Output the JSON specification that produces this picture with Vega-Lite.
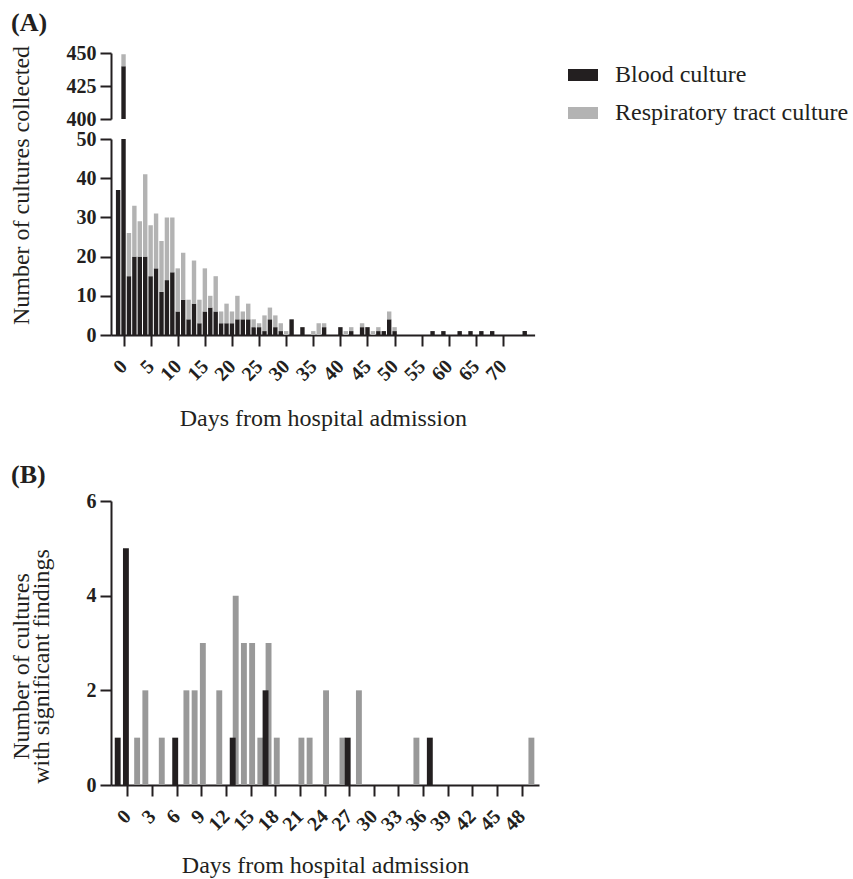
{
  "$schema": "https://vega.github.io/schema/vega-lite/v6.json",
  "padding": {"left": 8, "top": 10, "right": 5, "bottom": 0},
  "background": "white",
  "datasets": {
    "a": [
      {"day": -1, "culture": "Blood culture", "count": 37},
      {"day": 0, "culture": "Blood culture", "count": 440},
      {"day": 0, "culture": "Respiratory tract culture", "count": 9},
      {"day": 1, "culture": "Blood culture", "count": 15},
      {"day": 1, "culture": "Respiratory tract culture", "count": 11},
      {"day": 2, "culture": "Blood culture", "count": 20},
      {"day": 2, "culture": "Respiratory tract culture", "count": 13},
      {"day": 3, "culture": "Blood culture", "count": 20},
      {"day": 3, "culture": "Respiratory tract culture", "count": 9},
      {"day": 4, "culture": "Blood culture", "count": 20},
      {"day": 4, "culture": "Respiratory tract culture", "count": 21},
      {"day": 5, "culture": "Blood culture", "count": 15},
      {"day": 5, "culture": "Respiratory tract culture", "count": 13},
      {"day": 6, "culture": "Blood culture", "count": 17},
      {"day": 6, "culture": "Respiratory tract culture", "count": 14},
      {"day": 7, "culture": "Blood culture", "count": 11},
      {"day": 7, "culture": "Respiratory tract culture", "count": 13},
      {"day": 8, "culture": "Blood culture", "count": 14},
      {"day": 8, "culture": "Respiratory tract culture", "count": 16},
      {"day": 9, "culture": "Blood culture", "count": 16},
      {"day": 9, "culture": "Respiratory tract culture", "count": 14},
      {"day": 10, "culture": "Blood culture", "count": 6},
      {"day": 10, "culture": "Respiratory tract culture", "count": 11},
      {"day": 11, "culture": "Blood culture", "count": 9},
      {"day": 11, "culture": "Respiratory tract culture", "count": 12},
      {"day": 12, "culture": "Blood culture", "count": 4},
      {"day": 12, "culture": "Respiratory tract culture", "count": 5},
      {"day": 13, "culture": "Blood culture", "count": 8},
      {"day": 13, "culture": "Respiratory tract culture", "count": 11},
      {"day": 14, "culture": "Blood culture", "count": 3},
      {"day": 14, "culture": "Respiratory tract culture", "count": 6},
      {"day": 15, "culture": "Blood culture", "count": 6},
      {"day": 15, "culture": "Respiratory tract culture", "count": 11},
      {"day": 16, "culture": "Blood culture", "count": 7},
      {"day": 16, "culture": "Respiratory tract culture", "count": 3},
      {"day": 17, "culture": "Blood culture", "count": 6},
      {"day": 17, "culture": "Respiratory tract culture", "count": 9},
      {"day": 18, "culture": "Blood culture", "count": 3},
      {"day": 18, "culture": "Respiratory tract culture", "count": 3},
      {"day": 19, "culture": "Blood culture", "count": 3},
      {"day": 19, "culture": "Respiratory tract culture", "count": 5},
      {"day": 20, "culture": "Blood culture", "count": 3},
      {"day": 20, "culture": "Respiratory tract culture", "count": 3},
      {"day": 21, "culture": "Blood culture", "count": 4},
      {"day": 21, "culture": "Respiratory tract culture", "count": 6},
      {"day": 22, "culture": "Blood culture", "count": 4},
      {"day": 22, "culture": "Respiratory tract culture", "count": 2},
      {"day": 23, "culture": "Blood culture", "count": 4},
      {"day": 23, "culture": "Respiratory tract culture", "count": 4},
      {"day": 24, "culture": "Blood culture", "count": 2},
      {"day": 24, "culture": "Respiratory tract culture", "count": 2},
      {"day": 25, "culture": "Blood culture", "count": 2},
      {"day": 25, "culture": "Respiratory tract culture", "count": 1},
      {"day": 26, "culture": "Blood culture", "count": 1},
      {"day": 26, "culture": "Respiratory tract culture", "count": 4},
      {"day": 27, "culture": "Blood culture", "count": 4},
      {"day": 27, "culture": "Respiratory tract culture", "count": 3},
      {"day": 28, "culture": "Blood culture", "count": 2},
      {"day": 28, "culture": "Respiratory tract culture", "count": 3},
      {"day": 29, "culture": "Blood culture", "count": 1},
      {"day": 29, "culture": "Respiratory tract culture", "count": 2},
      {"day": 30, "culture": "Respiratory tract culture", "count": 1},
      {"day": 31, "culture": "Blood culture", "count": 4},
      {"day": 33, "culture": "Blood culture", "count": 2},
      {"day": 35, "culture": "Respiratory tract culture", "count": 1},
      {"day": 36, "culture": "Respiratory tract culture", "count": 3},
      {"day": 37, "culture": "Blood culture", "count": 2},
      {"day": 37, "culture": "Respiratory tract culture", "count": 1},
      {"day": 40, "culture": "Blood culture", "count": 2},
      {"day": 41, "culture": "Respiratory tract culture", "count": 1},
      {"day": 42, "culture": "Blood culture", "count": 1},
      {"day": 42, "culture": "Respiratory tract culture", "count": 1},
      {"day": 44, "culture": "Blood culture", "count": 2},
      {"day": 44, "culture": "Respiratory tract culture", "count": 1},
      {"day": 45, "culture": "Blood culture", "count": 2},
      {"day": 46, "culture": "Respiratory tract culture", "count": 1},
      {"day": 47, "culture": "Blood culture", "count": 1},
      {"day": 47, "culture": "Respiratory tract culture", "count": 1},
      {"day": 48, "culture": "Blood culture", "count": 1},
      {"day": 49, "culture": "Blood culture", "count": 4},
      {"day": 49, "culture": "Respiratory tract culture", "count": 2},
      {"day": 50, "culture": "Blood culture", "count": 1},
      {"day": 50, "culture": "Respiratory tract culture", "count": 1},
      {"day": 57, "culture": "Blood culture", "count": 1},
      {"day": 59, "culture": "Blood culture", "count": 1},
      {"day": 62, "culture": "Blood culture", "count": 1},
      {"day": 64, "culture": "Blood culture", "count": 1},
      {"day": 66, "culture": "Blood culture", "count": 1},
      {"day": 68, "culture": "Blood culture", "count": 1},
      {"day": 74, "culture": "Blood culture", "count": 1}
    ],
    "b": [
      {"day": -1, "culture": "Blood culture", "count": 1},
      {"day": 0, "culture": "Blood culture", "count": 5},
      {"day": 6, "culture": "Blood culture", "count": 1},
      {"day": 13, "culture": "Blood culture", "count": 1},
      {"day": 17, "culture": "Blood culture", "count": 2},
      {"day": 27, "culture": "Blood culture", "count": 1},
      {"day": 37, "culture": "Blood culture", "count": 1},
      {"day": 1, "culture": "Respiratory tract culture", "count": 1},
      {"day": 2, "culture": "Respiratory tract culture", "count": 2},
      {"day": 4, "culture": "Respiratory tract culture", "count": 1},
      {"day": 7, "culture": "Respiratory tract culture", "count": 2},
      {"day": 8, "culture": "Respiratory tract culture", "count": 2},
      {"day": 9, "culture": "Respiratory tract culture", "count": 3},
      {"day": 11, "culture": "Respiratory tract culture", "count": 2},
      {"day": 13, "culture": "Respiratory tract culture", "count": 4},
      {"day": 14, "culture": "Respiratory tract culture", "count": 3},
      {"day": 15, "culture": "Respiratory tract culture", "count": 3},
      {"day": 16, "culture": "Respiratory tract culture", "count": 1},
      {"day": 17, "culture": "Respiratory tract culture", "count": 3},
      {"day": 18, "culture": "Respiratory tract culture", "count": 1},
      {"day": 21, "culture": "Respiratory tract culture", "count": 1},
      {"day": 22, "culture": "Respiratory tract culture", "count": 1},
      {"day": 24, "culture": "Respiratory tract culture", "count": 2},
      {"day": 26, "culture": "Respiratory tract culture", "count": 1},
      {"day": 28, "culture": "Respiratory tract culture", "count": 2},
      {"day": 35, "culture": "Respiratory tract culture", "count": 1},
      {"day": 49, "culture": "Respiratory tract culture", "count": 1}
    ]
  },
  "config": {
    "font": "Liberation Serif",
    "view": {"stroke": null},
    "axis": {
      "grid": false,
      "domainColor": "#231f20",
      "domainWidth": 2,
      "tickColor": "#231f20",
      "tickWidth": 2,
      "tickSize": 11,
      "labelFont": "Liberation Serif",
      "labelFontWeight": "bold",
      "labelFontSize": 20,
      "labelColor": "#231f20",
      "labelPadding": 4,
      "labelOverlap": false,
      "titleFont": "Liberation Serif",
      "titleFontWeight": "normal",
      "titleFontSize": 24,
      "titleColor": "#231f20"
    },
    "axisX": {"labelAngle": -45, "labelAlign": "right", "labelBaseline": "middle", "labelPadding": 17, "titlePadding": 22},
    "title": {"font": "Liberation Serif", "fontSize": 26, "fontWeight": "bold", "color": "#231f20", "anchor": "start", "frame": "group"},
    "legend": {"labelFont": "Liberation Serif", "labelFontSize": 24, "labelColor": "#231f20", "labelLimit": 400}
  },
  "spacing": 31,
  "vconcat": [
    {
      "bounds": "flush",
      "spacing": 20,
      "vconcat": [
        {
          "data": {"name": "a"},
          "title": {"text": "(A)", "dx": -100, "offset": 7},
          "width": 423.6,
          "height": 66,
          "mark": {"type": "bar", "width": 4.4, "clip": true},
          "encoding": {
            "x": {"field": "day", "type": "quantitative", "scale": {"domain": [-1.39, 74.9], "nice": false, "zero": false}, "axis": null},
            "y": {"field": "count", "type": "quantitative", "aggregate": "sum", "scale": {"domain": [400, 450], "nice": false, "zero": false}, "axis": {"values": [400, 425, 450], "title": null}},
            "color": {
              "field": "culture", "type": "nominal",
              "scale": {"domain": ["Blood culture", "Respiratory tract culture"], "range": ["#231f20", "#b3b3b3"]},
              "legend": {"title": null, "orient": "none", "legendX": 460, "legendY": 10, "symbolType": "M-1.25,-0.5H1.25V0.5H-1.25Z", "symbolSize": 576, "symbolStrokeWidth": 0, "rowPadding": 14, "labelOffset": 20}
            },
            "order": {"field": "culture"}
          }
        },
        {
          "data": {"name": "a"},
          "width": 423.6,
          "height": 196,
          "mark": {"type": "bar", "width": 4.4, "clip": true},
          "encoding": {
            "x": {"field": "day", "type": "quantitative", "scale": {"domain": [-1.39, 74.9], "nice": false, "zero": false},
                  "axis": {"values": [0, 5, 10, 15, 20, 25, 30, 35, 40, 45, 50, 55, 60, 65, 70], "title": "Days from hospital admission"}},
            "y": {"field": "count", "type": "quantitative", "aggregate": "sum", "scale": {"domain": [0, 50], "nice": false}, "axis": {"values": [0, 10, 20, 30, 40, 50], "title": "Number of cultures collected", "titleX": -78, "titleY": 46}},
            "color": {
              "field": "culture", "type": "nominal",
              "scale": {"domain": ["Blood culture", "Respiratory tract culture"], "range": ["#231f20", "#b3b3b3"]},
              "legend": {"title": null, "orient": "none", "legendX": 460, "legendY": 10, "symbolType": "M-1.25,-0.5H1.25V0.5H-1.25Z", "symbolSize": 576, "symbolStrokeWidth": 0, "rowPadding": 14, "labelOffset": 20}
            },
            "order": {"field": "culture"}
          }
        }
      ]
    },
    {
      "data": {"name": "b"},
      "title": {"text": "(B)", "dx": -100, "offset": 3},
      "width": 428,
      "height": 284,
      "encoding": {
        "x": {"field": "day", "type": "quantitative", "scale": {"domain": [-1.39, 49.5], "nice": false, "zero": false},
              "axis": {"values": [0, 3, 6, 9, 12, 15, 18, 21, 24, 27, 30, 33, 36, 39, 42, 45, 48], "title": "Days from hospital admission", "titlePadding": 19}},
        "y": {"field": "count", "type": "quantitative", "scale": {"domain": [0, 6], "nice": false}, "axis": {"values": [0, 2, 4, 6], "title": ["Number of cultures", "with significant findings"], "titleX": -78, "titleY": 165, "titleLineHeight": 20}}
      },
      "layer": [
        {
          "transform": [{"filter": "datum.culture === 'Respiratory tract culture'"}],
          "mark": {"type": "bar", "width": 5.9, "xOffset": 1.5, "color": "#999999"}
        },
        {
          "transform": [{"filter": "datum.culture === 'Blood culture'"}],
          "mark": {"type": "bar", "width": 5.9, "xOffset": -1.5, "color": "#231f20"}
        }
      ]
    }
  ]
}
